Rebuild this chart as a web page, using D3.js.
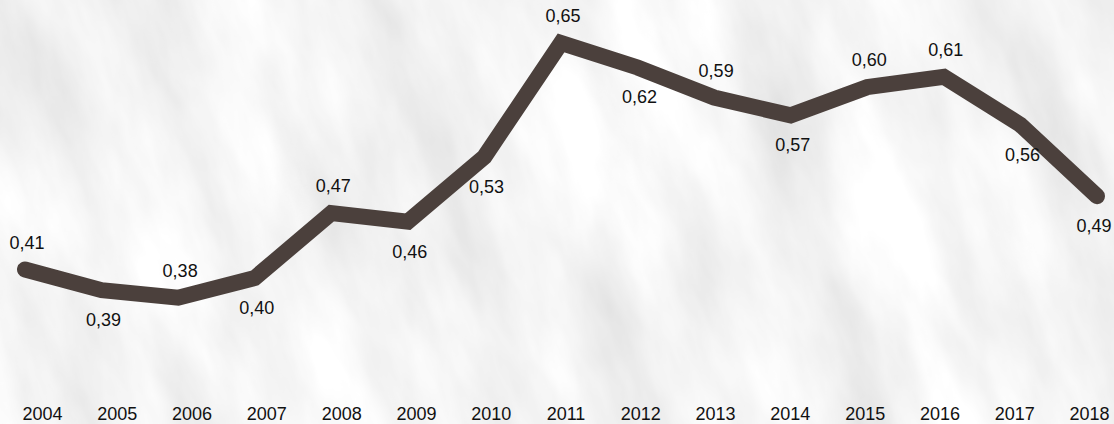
<!DOCTYPE html>
<html>
<head>
<meta charset="utf-8">
<script src="https://cdn.jsdelivr.net/npm/d3@7"></script>
<style>
  body { margin: 0; background: #ededed; }
  text { font-family: "Liberation Sans", Arial, sans-serif; }
</style>
</head>
<body>
<div id="chart"></div>
<script>
var width = 1114,
    height = 424;

// data
var years = ["2004","2005","2006","2007","2008","2009","2010","2011","2012","2013","2014","2015","2016","2017","2018"];
var values = [0.409, 0.387, 0.379, 0.400, 0.469, 0.460, 0.529, 0.650, 0.624, 0.592, 0.573, 0.603, 0.614, 0.563, 0.487];
// where each value label sits relative to its point
var labelSide = ["above","below","above","below","above","below","below","above","below","above","below","above","above","below","below"];

var locale = d3.formatLocale({decimal: ",", thousands: ".", grouping: [3], currency: ["", "€"]});
var fmt = locale.format(".2f");

var xScale = d3.scalePoint()
    .domain(years)
    .range([25, 1097]);

// the category labels are spread a little narrower than the line itself
var xLabelScale = d3.scalePoint()
    .domain(years)
    .range([42, 1089]);

var yScale = d3.scaleLinear()
    .domain([0.3, 0.7])
    .range([372, -4]);

var svg = d3.select("#chart").append("svg")
    .attr("width", width)
    .attr("height", height);

// marble-ish background
var defs = svg.append("defs");
var filter = defs.append("filter")
    .attr("id", "marble")
    .attr("x", 0).attr("y", 0)
    .attr("width", "100%").attr("height", "100%");
filter.append("feTurbulence")
    .attr("type", "fractalNoise")
    .attr("baseFrequency", "0.012 0.004")
    .attr("numOctaves", 5)
    .attr("seed", 7)
    .attr("result", "noise");
filter.append("feColorMatrix")
    .attr("type", "matrix")
    .attr("values", "0.4 0 0 0 0.71  0.4 0 0 0 0.71  0.4 0 0 0 0.71  0 0 0 0 1");

svg.append("rect")
    .attr("width", width)
    .attr("height", height)
    .attr("fill", "#ececec");

svg.append("g")
    .attr("transform", "rotate(-18 557 212)")
    .append("rect")
    .attr("x", -300).attr("y", -400)
    .attr("width", width + 600)
    .attr("height", height + 800)
    .attr("filter", "url(#marble)");

// x axis labels, no line or ticks
var xAxis = d3.axisBottom(xLabelScale).tickSize(0).tickPadding(0);
var gx = svg.append("g")
    .attr("transform", "translate(0,405)")
    .call(xAxis);
gx.select(".domain").remove();
gx.selectAll("text")
    .attr("dy", "0.85em")
    .style("font-size", "18px")
    .style("fill", "#111");

var line = d3.line()
    .x(function(d, i) { return xScale(years[i]); })
    .y(function(d) { return yScale(d); });

svg.append("path")
    .datum(values)
    .attr("d", line)
    .attr("fill", "none")
    .attr("stroke", "#4b403c")
    .attr("stroke-width", 16)
    .attr("stroke-linejoin", "miter")
    .attr("stroke-linecap", "round");

// value labels, kept inside the picture
svg.append("g")
    .selectAll("text")
    .data(values).enter()
    .append("text")
    .attr("x", function(d, i) { return Math.min(xScale(years[i]) + 2, width - 20); })
    .attr("y", function(d, i) {
        return labelSide[i] == "above" ? yScale(d) - 21 : yScale(d) + 36;
    })
    .style("text-anchor", "middle")
    .style("font-size", "18px")
    .style("fill", "#111")
    .text(function(d) { return fmt(d); });
</script>
</body>
</html>
